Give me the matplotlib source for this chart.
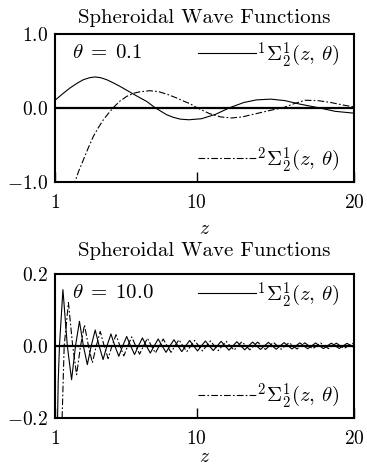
import matplotlib
matplotlib.use('Agg')
import matplotlib.pyplot as plt
from matplotlib.lines import Line2D

plt.rcParams['font.family'] = 'cmr10'
plt.rcParams['mathtext.fontset'] = 'cm'
plt.rcParams['axes.formatter.use_mathtext'] = True

# theta = 0.1
z_a1 = [1.0, 1.5, 1.95, 2.4, 2.8, 3.2, 3.54, 3.9, 4.28, 4.7, 5.13, 5.55, 5.97, 6.4,
        6.82, 7.35, 8.09, 8.5, 8.94, 9.5, 10.3, 11.2, 12.1, 13.0, 13.8, 14.7, 15.6,
        16.5, 17.7, 18.8, 20.0]
y_a1 = [0.10, 0.19, 0.266, 0.33, 0.378, 0.405, 0.415, 0.405, 0.378, 0.335, 0.287,
        0.236, 0.184, 0.133, 0.084, 0.0, -0.096, -0.13, -0.155, -0.164, -0.150,
        -0.090, 0.0, 0.070, 0.105, 0.115, 0.095, 0.050, 0.0, -0.050, -0.075]
z_a2 = [2.1, 2.27, 2.5, 2.8, 3.1, 3.43, 3.75, 4.07, 4.4, 4.7, 5.1, 5.55, 6.0, 6.4,
        7.04, 7.6, 8.2, 8.73, 9.2, 9.58, 10.0, 10.8, 11.5, 12.2, 12.9, 13.7, 14.5,
        15.5, 16.2, 16.9, 17.7, 18.5, 19.3, 20.0]
y_a2 = [-1.25, -1.0, -0.86, -0.706, -0.55, -0.39, -0.27, -0.164, -0.075, 0.0, 0.085,
        0.152, 0.195, 0.215, 0.229, 0.215, 0.175, 0.13, 0.085, 0.053, 0.0, -0.08,
        -0.125, -0.14, -0.125, -0.085, -0.045, 0.0, 0.055, 0.10, 0.095, 0.07, 0.035,
        0.01]

# theta = 10.0, extrema and zero crossings
pts_b1 = [(1.10, -0.35), (1.20, -0.10), (1.28, 0.0), (1.50, 0.156), (1.78, 0.0),
          (2.05, -0.094), (2.30, 0.0), (2.55, 0.068), (2.80, 0.0),
          (3.05, -0.052), (3.30, 0.0), (3.55, 0.044), (3.80, 0.0),
          (4.05, -0.038), (4.30, 0.0), (4.55, 0.033), (4.80, 0.0),
          (5.05, -0.029), (5.30, 0.0), (5.55, 0.026), (5.80, 0.0),
          (6.05, -0.024), (6.30, 0.0), (6.55, 0.022), (6.80, 0.0),
          (7.05, -0.020), (7.30, 0.0), (7.55, 0.019), (7.80, 0.0),
          (8.05, -0.018), (8.30, 0.0), (8.55, 0.017), (8.80, 0.0),
          (9.05, -0.016), (9.30, 0.0), (9.55, 0.015), (9.80, 0.0),
          (10.05, -0.014), (10.30, 0.0), (10.55, 0.0135), (10.80, 0.0),
          (11.05, -0.013), (11.30, 0.0), (11.55, 0.0125), (11.80, 0.0),
          (12.05, -0.012), (12.30, 0.0), (12.55, 0.0115), (12.80, 0.0),
          (13.05, -0.011), (13.30, 0.0), (13.55, 0.0105), (13.80, 0.0),
          (14.05, -0.010), (14.30, 0.0), (14.55, 0.0097), (14.80, 0.0),
          (15.05, -0.0094), (15.30, 0.0), (15.55, 0.009), (15.80, 0.0),
          (16.05, -0.0087), (16.30, 0.0), (16.55, 0.0084), (16.80, 0.0),
          (17.05, -0.0081), (17.30, 0.0), (17.55, 0.0079), (17.80, 0.0),
          (18.05, -0.0077), (18.30, 0.0), (18.55, 0.0075), (18.80, 0.0),
          (19.05, -0.0073), (19.30, 0.0), (19.55, 0.007), (19.80, 0.0),
          (20.0, -0.0045)]
pts_b2 = [(1.35, -0.35), (1.58, 0.0), (1.85, 0.120), (2.12, 0.0),
          (2.37, -0.080), (2.62, 0.0), (2.87, 0.058), (3.12, 0.0),
          (3.37, -0.047), (3.62, 0.0), (3.87, 0.040), (4.12, 0.0),
          (4.37, -0.035), (4.62, 0.0), (4.87, 0.031), (5.12, 0.0),
          (5.37, -0.028), (5.62, 0.0), (5.87, 0.025), (6.12, 0.0),
          (6.37, -0.023), (6.62, 0.0), (6.87, 0.021), (7.12, 0.0),
          (7.37, -0.020), (7.62, 0.0), (7.87, 0.019), (8.12, 0.0),
          (8.37, -0.018), (8.62, 0.0), (8.87, 0.017), (9.12, 0.0),
          (9.37, -0.016), (9.62, 0.0), (9.87, 0.015), (10.12, 0.0),
          (10.37, -0.014), (10.62, 0.0), (10.87, 0.0135), (11.12, 0.0),
          (11.37, -0.013), (11.62, 0.0), (11.87, 0.0125), (12.12, 0.0),
          (12.37, -0.012), (12.62, 0.0), (12.87, 0.0115), (13.12, 0.0),
          (13.37, -0.011), (13.62, 0.0), (13.87, 0.0105), (14.12, 0.0),
          (14.37, -0.010), (14.62, 0.0), (14.87, 0.0097), (15.12, 0.0),
          (15.37, -0.0094), (15.62, 0.0), (15.87, 0.009), (16.12, 0.0),
          (16.37, -0.0087), (16.62, 0.0), (16.87, 0.0084), (17.12, 0.0),
          (17.37, -0.0081), (17.62, 0.0), (17.87, 0.0079), (18.12, 0.0),
          (18.37, -0.0077), (18.62, 0.0), (18.87, 0.0075), (19.12, 0.0),
          (19.37, -0.0073), (19.62, 0.0), (19.87, 0.007), (20.0, 0.0055)]
z_b1, y_b1 = zip(*pts_b1)
z_b2, y_b2 = zip(*pts_b2)

xticks = [1, 10, 20]
xtick_labels = ['$1$', '$10$', '$20$']
title = 'Spheroidal Wave Functions'
label1 = r'${}^1\Sigma_2^1(z,\,\theta)$'
label2 = r'${}^2\Sigma_2^1(z,\,\theta)$'

DASH = (0, (6, 2, 1.5, 2))
FS = 14


def panel(ax, z1, y1, z2, y2, ylim, yticks, ytick_labels, theta_txt,
          title_pad, xlabelpad):
    ax.plot(z1, y1, color='k', lw=0.8)
    ax.plot(z2, y2, color='k', lw=0.8, linestyle=DASH)
    ax.axhline(0, color='k', lw=1.6)
    ax.set_xlim(1, 20)
    ax.set_ylim(*ylim)
    ax.set_xticks(xticks)
    ax.set_xticklabels(xtick_labels, fontsize=FS)
    ax.set_yticks(yticks)
    ax.set_yticklabels(ytick_labels, fontsize=FS)
    ax.tick_params(axis='x', direction='in', length=7, width=1, pad=9)
    ax.tick_params(axis='y', length=0, pad=5)
    for s in ax.spines.values():
        s.set_linewidth(1.5)
    ax.set_title(title, fontsize=15, pad=title_pad)
    ax.set_xlabel('$z$', fontsize=FS, labelpad=xlabelpad)
    ax.text(0.057, 0.87, theta_txt, transform=ax.transAxes, fontsize=15, va='center')

    h1 = Line2D([], [], color='k', lw=0.8)
    h2 = Line2D([], [], color='k', lw=0.8, linestyle=DASH)
    leg1 = ax.legend([h1], [label1], loc='center left', bbox_to_anchor=(0.478, 0.858),
                     frameon=False, fontsize=15, handlelength=2.8, handletextpad=0.05,
                     borderpad=0, borderaxespad=0)
    ax.add_artist(leg1)
    ax.legend([h2], [label2], loc='center left', bbox_to_anchor=(0.478, 0.152),
              frameon=False, fontsize=15, handlelength=2.8, handletextpad=0.05,
              borderpad=0, borderaxespad=0)


fig = plt.figure(figsize=(3.67, 4.68), dpi=100)
ax1 = fig.add_axes([0.150, 0.612, 0.815, 0.316])
ax2 = fig.add_axes([0.150, 0.107, 0.815, 0.308])

panel(ax1, z_a1, y_a1, z_a2, y_a2, (-1.0, 1.0), [-1.0, 0.0, 1.0],
      ['$-1.0$', '$0.0$', '$1.0$'], r'$\theta\;=\;0.1$', 8, 6)
panel(ax2, z_b1, y_b1, z_b2, y_b2, (-0.2, 0.2), [-0.2, 0.0, 0.2],
      ['$-0.2$', '$0.0$', '$0.2$'], r'$\theta\;=\;10.0$', 13, 0)

fig.savefig('out.png', dpi=100)
